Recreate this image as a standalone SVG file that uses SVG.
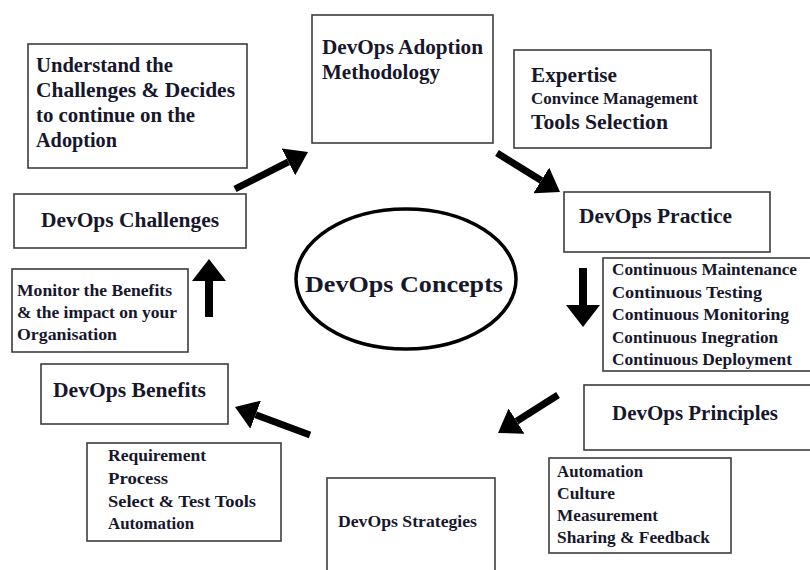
<svg xmlns="http://www.w3.org/2000/svg" width="810" height="570" viewBox="0 0 810 570">
  <style>
    .box { fill: #ffffff; stroke: #3c3c3c; stroke-width: 1.6; }
    .t { font-weight: bold; fill: #17172c; }
    .f20 { font-size: 20px; }
    .f17 { font-size: 17px; }
    .f16 { font-size: 16.5px; }
    .arrow { stroke: #000000; stroke-width: 7; fill: none; marker-end: url(#head); }
    .arrow.v { marker-end: url(#head-wide); stroke-width: 8; }
  </style>
  <defs>
    <marker id="head" viewBox="0 0 22 30" refX="0" refY="15" markerWidth="22" markerHeight="30" markerUnits="userSpaceOnUse" orient="auto">
      <path d="M0,0 L22,15 L0,30 Z" fill="#000000"/>
    </marker>
    <marker id="head-wide" viewBox="0 0 22 34" refX="0" refY="17" markerWidth="22" markerHeight="34" markerUnits="userSpaceOnUse" orient="auto">
      <path d="M0,0 L22,17 L0,34 Z" fill="#000000"/>
    </marker>
  </defs>
  <rect width="810" height="570" fill="#ffffff"/>

  <g font-family="Liberation Serif, Times New Roman, serif">
  <!-- central concept -->
  <g id="concepts">
    <ellipse cx="406" cy="279" rx="110" ry="70" fill="#ffffff" stroke="#000000" stroke-width="3.5"/>
    <text class="t" x="305" y="292" font-size="24" textLength="198" lengthAdjust="spacingAndGlyphs">DevOps Concepts</text>
  </g>

  <g id="understand">
    <rect class="box" x="28" y="44" width="219" height="124"/>
    <text class="t f20" x="36" y="72" textLength="137" lengthAdjust="spacingAndGlyphs">Understand the</text>
    <text class="t f20" x="36" y="97" textLength="199" lengthAdjust="spacingAndGlyphs">Challenges &amp; Decides</text>
    <text class="t f20" x="36" y="122" textLength="159" lengthAdjust="spacingAndGlyphs">to continue on the</text>
    <text class="t f20" x="36" y="147" textLength="81" lengthAdjust="spacingAndGlyphs">Adoption</text>
  </g>

  <g id="challenges">
    <rect class="box" x="14" y="194" width="232" height="54"/>
    <text class="t f20" x="41" y="227" textLength="178" lengthAdjust="spacingAndGlyphs">DevOps Challenges</text>
  </g>

  <g id="adoption">
    <rect class="box" x="312" y="15" width="181" height="128"/>
    <text class="t f20" x="322" y="54" textLength="161" lengthAdjust="spacingAndGlyphs">DevOps Adoption</text>
    <text class="t f20" x="322" y="79" textLength="118" lengthAdjust="spacingAndGlyphs">Methodology</text>
  </g>

  <g id="expertise">
    <rect class="box" x="514" y="50" width="197" height="98"/>
    <text class="t f20" x="531" y="82" textLength="86" lengthAdjust="spacingAndGlyphs">Expertise</text>
    <text class="t f17" x="531" y="104" textLength="167" lengthAdjust="spacingAndGlyphs">Convince Management</text>
    <text class="t f20" x="531" y="129" textLength="137" lengthAdjust="spacingAndGlyphs">Tools Selection</text>
  </g>

  <g id="practice">
    <rect class="box" x="564" y="192" width="206" height="60"/>
    <text class="t f20" x="579" y="223" textLength="153" lengthAdjust="spacingAndGlyphs">DevOps Practice</text>
  </g>

  <g id="continuous" xml:space="preserve">
    <rect class="box" x="603" y="258" width="220" height="113"/>
    <text class="t f17" x="612" y="275" textLength="185" lengthAdjust="spacingAndGlyphs">Continuous Maintenance</text>
    <text class="t f17" x="612" y="298" textLength="150" lengthAdjust="spacingAndGlyphs">Continuous  Testing</text>
    <text class="t f17" x="612" y="320" textLength="177" lengthAdjust="spacingAndGlyphs">Continuous  Monitoring</text>
    <text class="t f17" x="612" y="343" textLength="166" lengthAdjust="spacingAndGlyphs">Continuous Inegration</text>
    <text class="t f17" x="612" y="365" textLength="180" lengthAdjust="spacingAndGlyphs">Continuous  Deployment</text>
  </g>

  <g id="principles">
    <rect class="box" x="584" y="385" width="240" height="65"/>
    <text class="t f20" x="612" y="420" textLength="166" lengthAdjust="spacingAndGlyphs">DevOps Principles</text>
  </g>

  <g id="principle-items">
    <rect class="box" x="549" y="458" width="182" height="95"/>
    <text class="t f16" x="557" y="477" textLength="86" lengthAdjust="spacingAndGlyphs">Automation</text>
    <text class="t f16" x="557" y="499" textLength="58" lengthAdjust="spacingAndGlyphs">Culture</text>
    <text class="t f16" x="557" y="521" textLength="101" lengthAdjust="spacingAndGlyphs">Measurement</text>
    <text class="t f16" x="557" y="543" textLength="153" lengthAdjust="spacingAndGlyphs">Sharing &amp; Feedback</text>
  </g>

  <g id="strategies">
    <rect class="box" x="327" y="478" width="168" height="110"/>
    <text class="t f17" x="338" y="527" textLength="139" lengthAdjust="spacingAndGlyphs">DevOps Strategies</text>
  </g>

  <g id="strategy-items">
    <rect class="box" x="87" y="443" width="194" height="98"/>
    <text class="t f17" x="108" y="461" textLength="98" lengthAdjust="spacingAndGlyphs">Requirement</text>
    <text class="t f17" x="108" y="484" textLength="60" lengthAdjust="spacingAndGlyphs">Process</text>
    <text class="t f17" x="108" y="507" textLength="148" lengthAdjust="spacingAndGlyphs">Select &amp; Test Tools</text>
    <text class="t f17" x="108" y="529" textLength="86" lengthAdjust="spacingAndGlyphs">Automation</text>
  </g>

  <g id="benefits">
    <rect class="box" x="41" y="364" width="187" height="60"/>
    <text class="t f20" x="53" y="397" textLength="153" lengthAdjust="spacingAndGlyphs">DevOps Benefits</text>
  </g>

  <g id="monitor" xml:space="preserve">
    <rect class="box" x="12" y="269" width="176" height="83"/>
    <text class="t f17" x="17" y="296" textLength="155" lengthAdjust="spacingAndGlyphs">Monitor the Benefits</text>
    <text class="t f17" x="17" y="318" textLength="160" lengthAdjust="spacingAndGlyphs">&amp; the impact  on your</text>
    <text class="t f17" x="17" y="340" textLength="100" lengthAdjust="spacingAndGlyphs">Organisation</text>
  </g>
  </g>

  <!-- cycle connectors -->
  <g id="connectors">
    <path class="arrow" d="M235,189 L288.4,161.9"/>
    <path class="arrow" d="M497,153 L541.3,180.4"/>
    <path class="arrow v" d="M583,268 L583,305"/>
    <path class="arrow" d="M558,395 L516.6,421.2"/>
    <path class="arrow" d="M310,435 L255.6,414.7"/>
    <path class="arrow v" d="M209,317 L209,281"/>
  </g>
</svg>
